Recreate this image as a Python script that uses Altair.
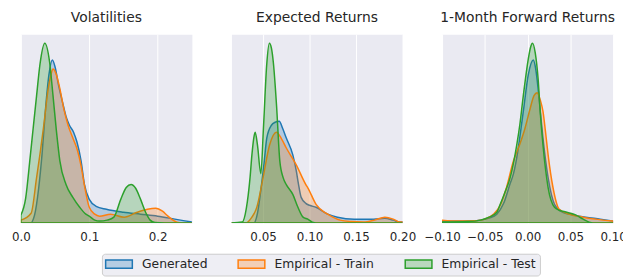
import altair as alt
import pandas as pd

SERIES = ["Generated", "Empirical - Train", "Empirical - Test"]
COLORS = ["#1f77b4", "#ff7f0e", "#2ca02c"]
FILLS = ["rgba(31,119,180,0.27)", "rgba(255,127,14,0.27)", "rgba(44,160,44,0.27)"]
TITLES = ["Volatilities", "Expected Returns", "1-Month Forward Returns"]

# ---- Volatilities (relative density) ----
vol_gen_x = [0.000, 0.014, 0.020, 0.026, 0.031, 0.036, 0.041, 0.046, 0.050, 0.055, 0.061, 0.066, 0.071, 0.077, 0.082, 0.088, 0.093, 0.100, 0.110, 0.125, 0.150, 0.175, 0.200, 0.225, 0.250]
vol_gen_y = [0, 0, 8, 35, 70, 115, 150, 165, 158, 140, 122, 108, 99, 92, 82, 63, 39, 24, 17, 14, 11, 9, 7, 4, 1]
vol_tr_x = [0.000, 0.015, 0.023, 0.028, 0.033, 0.040, 0.044, 0.047, 0.051, 0.057, 0.063, 0.069, 0.076, 0.083, 0.088, 0.093, 0.100, 0.108, 0.115, 0.131, 0.151, 0.170, 0.185, 0.197, 0.207, 0.215, 0.228, 0.240, 0.250]
vol_tr_y = [3, 10, 46, 70, 96, 136, 150, 156, 152, 136, 115, 99, 86, 73, 58, 38, 16, 9, 7, 9, 6, 11, 14, 15, 12, 7, 1, 0, 0]
vol_te_x = [0.000, 0.007, 0.0135, 0.018, 0.023, 0.028, 0.035, 0.042, 0.047, 0.052, 0.057, 0.066, 0.076, 0.086, 0.095, 0.100, 0.108, 0.115, 0.126, 0.136, 0.146, 0.154, 0.161, 0.168, 0.175, 0.183, 0.189, 0.196, 0.210, 0.250]
vol_te_y = [8, 25, 66, 96, 129, 161, 182, 163, 129, 93, 63, 39, 26, 16, 9, 7, 3, 2, 3, 6, 24, 36, 39, 35, 24, 10, 3, 0.5, 0, 0]

# ---- Expected Returns ----
er_gen_x = [0.016, 0.040, 0.044, 0.047, 0.051, 0.054, 0.059, 0.063, 0.0674, 0.071, 0.075, 0.082, 0.0857, 0.088, 0.091, 0.096, 0.100, 0.107, 0.1196, 0.130, 0.148, 0.169, 0.181, 0.190, 0.197, 0.200]
er_gen_y = [0, 0, 10, 29, 60, 86, 99, 102, 103, 96, 86, 69, 53, 40, 26, 20, 18, 16, 9, 6, 4, 4, 5, 3, 1, 1]
er_tr_x = [0.016, 0.031, 0.038, 0.0433, 0.050, 0.057, 0.0645, 0.070, 0.075, 0.0857, 0.096, 0.098, 0.107, 0.116, 0.1196, 0.133, 0.145, 0.158, 0.170, 0.181, 0.190, 0.197, 0.200]
er_tr_y = [0, 0, 6, 16, 46, 79, 92, 85, 76, 59, 39, 36, 19, 11, 9, 3, 1.5, 1, 3, 6, 4, 1, 1]
er_te_x = [0.016, 0.0275, 0.032, 0.036, 0.038, 0.040, 0.0415, 0.044, 0.0476, 0.0504, 0.0539, 0.0568, 0.059, 0.061, 0.0645, 0.068, 0.0716, 0.075, 0.082, 0.0875, 0.093, 0.098, 0.103, 0.110, 0.200]
er_te_y = [0, 1, 15, 46, 69, 86, 92, 79, 50, 96, 160, 182, 177, 163, 119, 63, 46, 39, 29, 16, 6, 4, 1, 0, 0]

# ---- 1-Month Forward Returns ----
fr_gen_x = [-0.100, -0.070, -0.055, -0.045, -0.036, -0.028, -0.0204, -0.0165, -0.0127, -0.005, 0.0008, 0.0066, 0.0095, 0.0123, 0.015, 0.018, 0.024, 0.0315, 0.041, 0.055, 0.068, 0.085, 0.100]
fr_gen_y = [2, 2, 3, 5, 9, 20, 40, 50, 66, 113, 150, 165, 156, 136, 112, 86, 46, 19, 11, 8, 6, 4, 2]
fr_tr_x = [-0.100, -0.080, -0.060, -0.050, -0.040, -0.032, -0.025, -0.0165, -0.009, -0.003, 0.003, 0.0075, 0.0112, 0.015, 0.018, 0.021, 0.024, 0.0297, 0.037, 0.049, 0.065, 0.080, 0.100]
fr_tr_y = [3, 2, 2.5, 4, 9, 18, 35, 63, 80, 96, 116, 129, 132, 124, 113, 92, 69, 36, 14, 9, 6, 4, 2]
fr_te_x = [-0.100, -0.070, -0.055, -0.045, -0.036, -0.032, -0.027, -0.0204, -0.0127, -0.009, -0.005, 0.0008, 0.0035, 0.0058, 0.009, 0.0123, 0.015, 0.018, 0.024, 0.0315, 0.037, 0.041, 0.050, 0.0566, 0.065, 0.072, 0.080, 0.100]
fr_te_y = [1, 1.5, 3, 6, 11, 19, 30, 46, 79, 100, 129, 166, 178, 182, 172, 146, 110, 79, 36, 16, 13, 12, 10, 8, 4, 1, 0, 0]

PANELS = [
    (TITLES[0], [(vol_gen_x, vol_gen_y), (vol_tr_x, vol_tr_y), (vol_te_x, vol_te_y)], [0.0, 0.25], [0.0, 0.1, 0.2], ".1f"),
    (TITLES[1], [(er_gen_x, er_gen_y), (er_tr_x, er_tr_y), (er_te_x, er_te_y)], [0.016, 0.2], [0.05, 0.10, 0.15, 0.20], ".2f"),
    (TITLES[2], [(fr_gen_x, fr_gen_y), (fr_tr_x, fr_tr_y), (fr_te_x, fr_te_y)], [-0.1, 0.1], [-0.1, -0.05, 0.0, 0.05, 0.1], ".2f"),
]

W, H = 173, 191
legend = alt.Legend(
    title=None, orient="none", direction="horizontal", legendX=82, legendY=222,
    symbolType="M-2.7,-0.85L2.7,-0.85L2.7,0.85L-2.7,0.85Z", symbolSize=100, symbolOffset=7,
    symbolStrokeWidth=1.5,
    labelFontSize=12.5, labelFont="DejaVu Sans", labelColor="#262626", labelOffset=17,
    columnPadding=27, padding=4, fillColor="#EEEEF4", strokeColor="#CCCCCC", cornerRadius=3,
)

charts = []
for title, series_data, dom, ticks, fmt in PANELS:
    rows = []
    for name, (xs, ys) in zip(SERIES, series_data):
        for xv, yv in zip(xs, ys):
            rows.append({"x": xv, "density": yv, "series": name})
    df = pd.DataFrame(rows)
    ymax = max(max(ys) for _, ys in series_data) * 1.05
    c = alt.Chart(df).mark_area(
        interpolate="monotone", strokeWidth=1.5, clip=True
    ).encode(
        x=alt.X("x:Q", scale=alt.Scale(domain=dom, nice=False, zero=False),
                axis=alt.Axis(values=ticks, format=fmt, title=None, labelOverlap=False,
                              labelFlush=False, labelBound=False)),
        y=alt.Y("density:Q", stack=None, scale=alt.Scale(domain=[0, ymax], nice=False), axis=None),
        fill=alt.Fill("series:N", scale=alt.Scale(domain=SERIES, range=FILLS), sort=SERIES, legend=legend),
        stroke=alt.Stroke("series:N", scale=alt.Scale(domain=SERIES, range=COLORS), sort=SERIES, legend=legend),
        order=alt.Order("series_idx:Q"),
    ).transform_calculate(
        series_idx="indexof(['Generated','Empirical - Train','Empirical - Test'], datum.series)"
    ).properties(width=W, height=H, title=title)
    charts.append(c)

chart = alt.hconcat(*charts, spacing=40, bounds="flush").configure_view(
    fill="#EAEAF2", stroke="transparent"
).configure_axis(
    grid=True, gridColor="white", gridWidth=1, domain=False, ticks=False,
    labelFontSize=12, labelFont="DejaVu Sans", labelColor="#262626", labelPadding=9,
).configure_title(
    fontSize=14, font="DejaVu Sans", color="#262626", fontWeight="normal", offset=9, anchor="middle"
).properties(padding={"left": 2, "top": 1, "right": -4, "bottom": 0})

chart.save("out.html", embed_options={"renderer": "svg", "actions": False})
